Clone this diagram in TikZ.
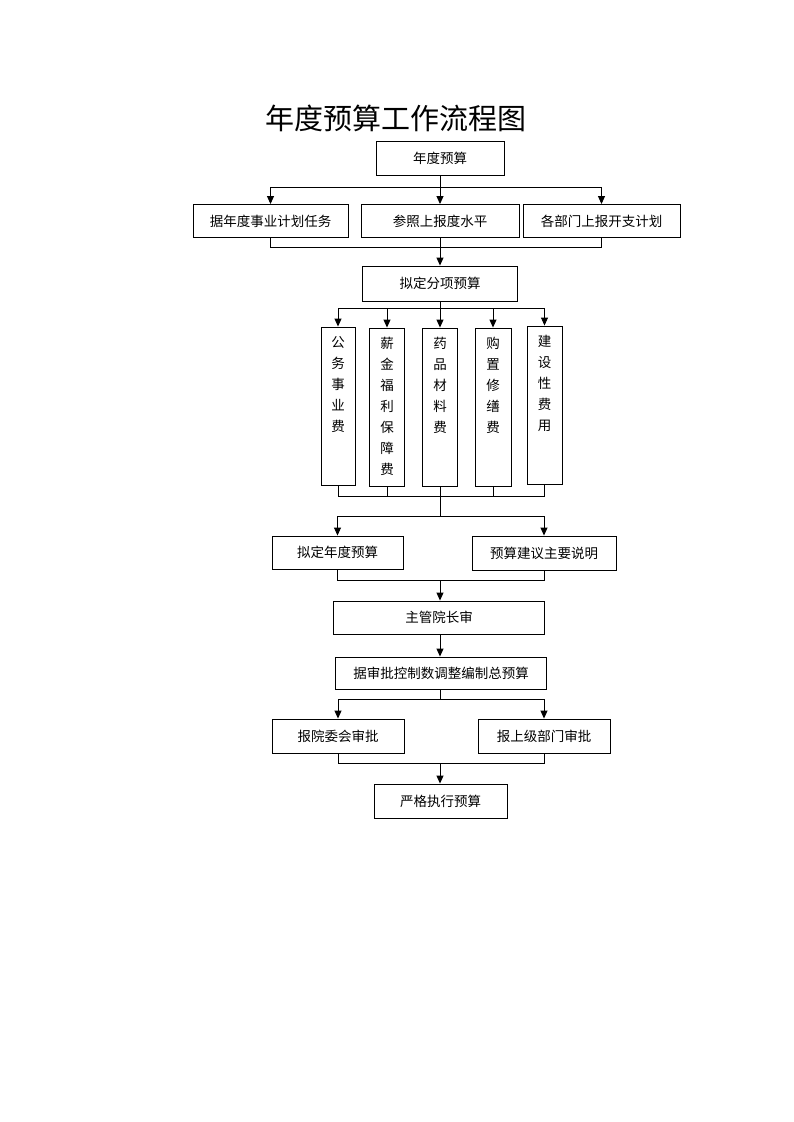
\documentclass[tikz,border=0pt]{standalone}
\usepackage{fontspec}
\newfontfamily\cjk{Noto Sans CJK SC}
\usetikzlibrary{arrows.meta}
\tikzset{
  box/.style={draw, line width=0.9pt, inner sep=0pt, font=\cjk\fontsize{13.5}{16}\selectfont},
  colbox/.style={draw, line width=0.9pt, inner sep=0pt, font=\cjk\fontsize{13.5}{21}\selectfont},
  con/.style={line width=0.9pt},
  arr/.style={line width=0.9pt, -{Triangle[length=8pt,width=7pt]}},
}
\newcommand{\coltext}[2]{\parbox[c][#1pt][t]{20pt}{\centering\vspace*{9pt}#2}}
\begin{document}
\begin{tikzpicture}[x=1pt,y=-1pt]
\useasboundingbox (0,0) rectangle (793,1122);
\node[font=\cjk\fontsize{29}{32}\selectfont] (title) at (396,118) {年度预算工作流程图};

\node[box, minimum width=128pt, minimum height=34pt] (top) at (440,158) {年度预算};
\node[box, minimum width=155pt, minimum height=33pt] (b1) at (270.5,221) {据年度事业计划任务};
\node[box, minimum width=158pt, minimum height=33pt] (b2) at (440,221) {参照上报度水平};
\node[box, minimum width=157pt, minimum height=33pt] (b3) at (601.5,221) {各部门上报开支计划};
\node[box, minimum width=155pt, minimum height=35pt] (fx) at (440,283.5) {拟定分项预算};

\node[colbox, minimum width=34pt, minimum height=158pt] (c1) at (338,406) {\coltext{158}{公\\务\\事\\业\\费}};
\node[colbox, minimum width=35pt, minimum height=158pt] (c2) at (387,407) {\coltext{158}{薪\\金\\福\\利\\保\\障\\费}};
\node[colbox, minimum width=35pt, minimum height=158pt] (c3) at (440,407) {\coltext{158}{药\\品\\材\\料\\费}};
\node[colbox, minimum width=36pt, minimum height=158pt] (c4) at (493,407) {\coltext{158}{购\\置\\修\\缮\\费}};
\node[colbox, minimum width=35pt, minimum height=158pt] (c5) at (544.5,405) {\coltext{158}{建\\设\\性\\费\\用}};

\node[box, minimum width=131pt, minimum height=33pt] (n1) at (337.5,552.5) {拟定年度预算};
\node[box, minimum width=144pt, minimum height=34pt] (n2) at (544,553) {预算建议主要说明};
\node[box, minimum width=211pt, minimum height=33pt] (zg) at (439,617.5) {主管院长审};
\node[box, minimum width=211pt, minimum height=32pt] (js) at (441,673) {据审批控制数调整编制总预算};
\node[box, minimum width=132pt, minimum height=34pt] (bw) at (338,736) {报院委会审批};
\node[box, minimum width=132pt, minimum height=34pt] (bs) at (544,736) {报上级部门审批};
\node[box, minimum width=133pt, minimum height=34pt] (yg) at (440.5,801) {严格执行预算};

\coordinate (h1) at (0,187);
\coordinate (h2) at (0,247);
\coordinate (h3) at (0,308);
\coordinate (h4) at (0,496);
\coordinate (h5) at (0,516);
\coordinate (h6) at (0,580);
\coordinate (h7) at (0,699);
\coordinate (h8) at (0,763);
\coordinate (mid) at (440,0);

% top -> row 2
\draw[con] (top.south) -- (top.south |- h1);
\draw[con] (b1.north |- h1) -- (b3.north |- h1);
\draw[arr] (b1.north |- h1) -- (b1.north);
\draw[arr] (b2.north |- h1) -- (b2.north);
\draw[arr] (b3.north |- h1) -- (b3.north);
% row 2 -> fx
\draw[con] (b1.south) -- (b1.south |- h2) -- (b3.south |- h2) -- (b3.south);
\draw[arr] (b2.south) -- (fx.north);
% fx -> columns
\draw[con] (fx.south) -- (fx.south |- h3);
\draw[con] (c1.north |- h3) -- (c5.north |- h3);
\foreach \c in {c1,c2,c3,c4,c5} \draw[arr] (\c.north |- h3) -- (\c.north);
% columns -> n1, n2
\foreach \c in {c1,c2,c3,c4,c5} \draw[con] (\c.south) -- (\c.south |- h4);
\draw[con] (c1.south |- h4) -- (c5.south |- h4);
\draw[con] (c3.south |- h4) -- (c3.south |- h5);
\draw[con] (n1.north |- h5) -- (n2.north |- h5);
\draw[arr] (n1.north |- h5) -- (n1.north);
\draw[arr] (n2.north |- h5) -- (n2.north);
% n1, n2 -> zg
\draw[con] (n1.south) -- (n1.south |- h6) -- (n2.south |- h6) -- (n2.south);
\draw[arr] (mid |- h6) -- (mid |- zg.north);
% zg -> js
\draw[arr] (mid |- zg.south) -- (mid |- js.north);
% js -> bw, bs
\draw[con] (mid |- js.south) -- (mid |- h7);
\draw[con] (bw.north |- h7) -- (bs.north |- h7);
\draw[arr] (bw.north |- h7) -- (bw.north);
\draw[arr] (bs.north |- h7) -- (bs.north);
% bw, bs -> yg
\draw[con] (bw.south) -- (bw.south |- h8) -- (bs.south |- h8) -- (bs.south);
\draw[arr] (mid |- h8) -- (mid |- yg.north);
\end{tikzpicture}
\end{document}
